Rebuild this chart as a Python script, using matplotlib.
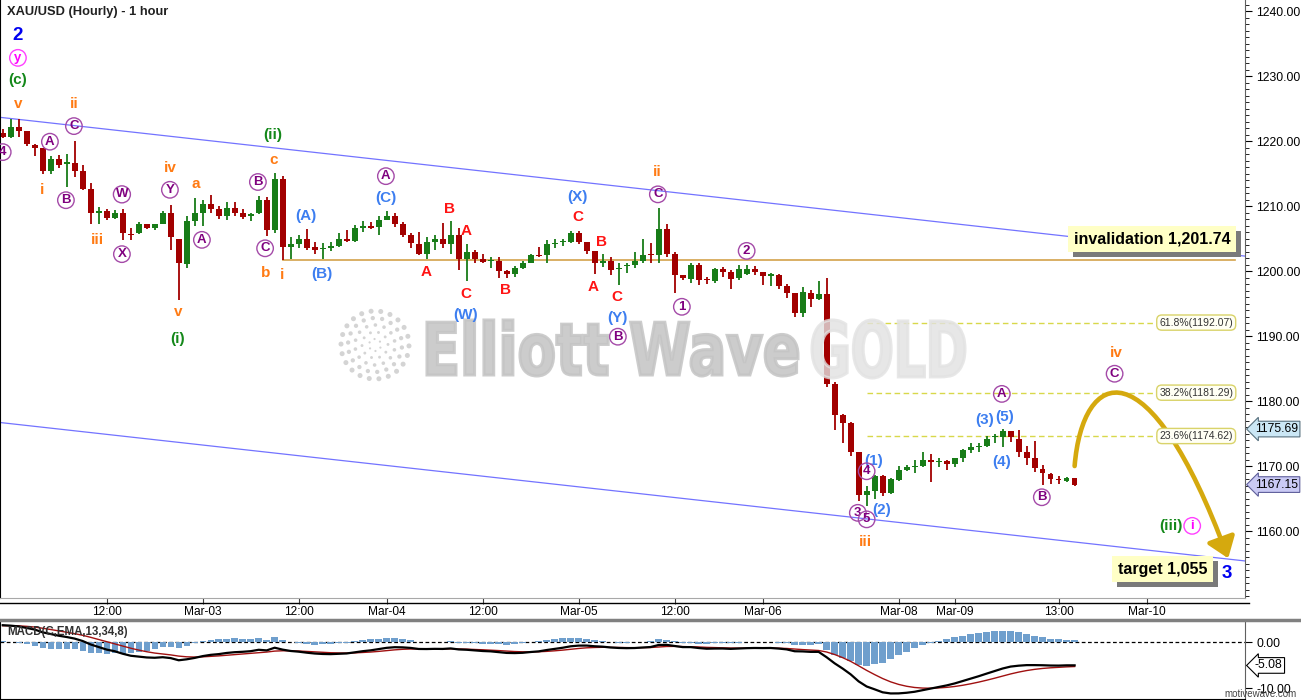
import numpy as np
import matplotlib
matplotlib.use('Agg')
import matplotlib.pyplot as plt
from matplotlib.path import Path
from matplotlib.patches import FancyArrowPatch, PathPatch, Circle, Rectangle
from matplotlib.textpath import TextPath
from matplotlib.font_manager import FontProperties
from matplotlib.transforms import Affine2D, IdentityTransform, blended_transform_factory
from matplotlib.lines import Line2D
from matplotlib.ticker import MultipleLocator, FixedLocator, FormatStrFormatter

plt.rcParams['font.family'] = ['Liberation Sans', 'DejaVu Sans']

# hourly XAU/USD candles, bar 0 = first bar on the left
opens = [1221.3, 1220.7, 1222.2, 1221.5, 1219.4, 1218.9, 1215.4, 1217.2, 1216.5, 1216.7,
         1215.4, 1212.6, 1208.9, 1209.2, 1208.1, 1209.0, 1205.7, 1205.9, 1207.2, 1206.6,
         1207.3, 1208.9, 1205.0, 1201.1, 1207.7, 1209.0, 1210.3, 1209.5, 1208.5, 1209.7,
         1208.9, 1208.4, 1208.9, 1210.9, 1206.3, 1214.2, 1203.7, 1204.15, 1204.9, 1203.7,
         1203.4, 1203.6, 1203.9, 1204.9, 1204.7, 1206.7, 1207.0, 1206.8, 1207.9, 1208.5,
         1207.2, 1205.5, 1204.2, 1202.7, 1204.5, 1205.0, 1204.2, 1205.6, 1201.8, 1202.9,
         1201.8, 1201.5, 1201.5, 1200.0, 1199.6, 1200.5, 1201.3, 1202.5, 1202.5, 1204.2,
         1204.4, 1204.5, 1205.8, 1204.4, 1203.1, 1201.2, 1201.5, 1200.3, 1200.8, 1200.9,
         1201.5, 1202.5, 1202.4, 1206.5, 1202.6, 1199.4, 1198.8, 1201.0, 1198.7, 1198.5,
         1200.3, 1199.8, 1198.9, 1199.5, 1200.3, 1199.8, 1199.3, 1199.4, 1197.7, 1196.6,
         1193.5, 1196.7, 1195.7, 1196.5, 1182.6, 1177.8, 1176.7, 1172.2, 1165.5, 1166.2,
         1168.5, 1165.8, 1167.8, 1169.4, 1169.8, 1170.0, 1171.0, 1170.6, 1170.7, 1170.25,
         1171.3, 1172.4, 1172.9, 1173.1, 1174.4, 1174.5, 1175.4, 1174.2, 1172.2, 1171.2,
         1169.6, 1168.8, 1167.95, 1167.75, 1168.1]
highs = [1221.8, 1223.4, 1223.4, 1221.6, 1219.5, 1219.0, 1217.7, 1217.8, 1218.0, 1220.0,
         1216.3, 1213.5, 1209.8, 1209.6, 1209.4, 1209.5, 1206.6, 1207.6, 1207.3, 1207.3,
         1209.2, 1210.1, 1205.0, 1208.5, 1211.3, 1211.0, 1211.7, 1210.0, 1210.7, 1210.6,
         1209.6, 1209.0, 1211.5, 1211.4, 1215.1, 1214.7, 1205.3, 1205.6, 1206.5, 1204.5,
         1204.3, 1204.4, 1205.8, 1206.3, 1207.1, 1207.7, 1207.6, 1208.5, 1209.2, 1208.9,
         1207.6, 1205.8, 1206.0, 1205.3, 1205.5, 1207.4, 1207.7, 1206.6, 1204.2, 1203.3,
         1202.7, 1202.2, 1202.2, 1200.2, 1200.8, 1201.6, 1202.7, 1203.7, 1204.8, 1205.0,
         1204.9, 1206.2, 1206.2, 1204.5, 1203.1, 1202.6, 1202.1, 1201.2, 1201.3, 1202.9,
         1205.0, 1204.3, 1209.7, 1207.2, 1202.9, 1199.4, 1201.2, 1201.2, 1199.1, 1200.5,
         1200.7, 1200.1, 1200.9, 1201.0, 1200.8, 1199.9, 1199.7, 1199.5, 1198.0, 1196.7,
         1197.6, 1197.1, 1198.5, 1199.0, 1183.0, 1178.0, 1176.8, 1172.2, 1167.0, 1168.6,
         1168.6, 1168.1, 1170.0, 1170.1, 1170.9, 1172.2, 1171.8, 1171.2, 1171.0, 1171.3,
         1172.7, 1173.6, 1173.6, 1174.6, 1175.0, 1175.69, 1175.4, 1175.5, 1173.1, 1173.8,
         1170.2, 1169.0, 1168.4, 1168.3, 1168.1]
lows = [1220.4, 1220.4, 1220.6, 1219.2, 1217.7, 1215.0, 1215.0, 1215.9, 1213.0, 1214.5,
        1212.5, 1207.3, 1207.2, 1207.9, 1208.0, 1204.8, 1204.8, 1205.7, 1206.5, 1206.3,
        1207.2, 1203.2, 1195.5, 1200.4, 1206.9, 1206.9, 1208.9, 1208.0, 1207.9, 1208.4,
        1208.0, 1207.7, 1208.8, 1205.4, 1205.9, 1201.74, 1201.9, 1203.6, 1203.2, 1202.6,
        1201.8, 1203.1, 1203.7, 1204.5, 1204.5, 1206.0, 1206.4, 1205.5, 1207.8, 1206.8,
        1205.3, 1203.6, 1202.5, 1201.8, 1203.2, 1203.5, 1202.7, 1200.2, 1198.4, 1201.3,
        1201.3, 1200.4, 1198.9, 1199.0, 1199.1, 1200.3, 1201.2, 1202.1, 1201.3, 1203.5,
        1203.8, 1204.3, 1204.2, 1202.6, 1199.6, 1200.7, 1199.4, 1197.9, 1199.7, 1200.4,
        1201.3, 1201.3, 1201.3, 1202.2, 1196.7, 1198.6, 1198.2, 1197.9, 1198.0, 1198.1,
        1199.1, 1197.2, 1198.6, 1199.4, 1199.4, 1197.8, 1197.7, 1197.3, 1195.8, 1193.0,
        1193.0, 1194.5, 1195.5, 1182.1, 1175.5, 1173.5, 1171.5, 1164.7, 1163.8, 1164.9,
        1165.4, 1165.7, 1167.7, 1169.3, 1168.9, 1169.9, 1167.6, 1169.9, 1169.4, 1169.9,
        1170.7, 1172.0, 1172.2, 1173.0, 1173.5, 1173.0, 1173.7, 1171.4, 1170.2, 1169.1,
        1167.1, 1167.3, 1167.2, 1167.6, 1166.9]
closes = [1220.7, 1222.2, 1221.6, 1219.5, 1219.0, 1215.4, 1217.2, 1216.3, 1216.7, 1215.4,
          1212.6, 1208.9, 1209.3, 1208.1, 1209.0, 1205.8, 1205.6, 1207.2, 1206.6, 1207.2,
          1208.9, 1205.2, 1201.2, 1207.7, 1208.9, 1210.3, 1209.5, 1208.5, 1209.7, 1209.0,
          1208.3, 1208.8, 1210.9, 1206.3, 1214.2, 1203.7, 1204.1, 1204.9, 1203.6, 1203.3,
          1203.6, 1203.9, 1204.9, 1204.7, 1206.7, 1207.0, 1206.7, 1207.8, 1208.5, 1207.3,
          1205.5, 1204.3, 1202.7, 1204.5, 1205.0, 1204.2, 1205.6, 1201.8, 1202.9, 1201.8,
          1201.4, 1201.6, 1200.0, 1199.6, 1200.5, 1201.3, 1202.5, 1202.3, 1204.2, 1204.3,
          1204.5, 1205.8, 1204.5, 1203.1, 1201.2, 1201.5, 1200.2, 1200.5, 1200.9, 1201.5,
          1202.5, 1202.4, 1206.5, 1202.6, 1199.4, 1198.9, 1201.0, 1198.6, 1198.6, 1200.3,
          1199.9, 1198.8, 1200.3, 1200.3, 1199.9, 1199.2, 1199.5, 1197.7, 1196.7, 1193.5,
          1196.7, 1195.7, 1196.4, 1182.6, 1177.9, 1176.7, 1172.2, 1165.5, 1166.2, 1168.5,
          1165.8, 1168.0, 1169.4, 1169.8, 1170.0, 1171.0, 1170.6, 1170.7, 1170.3, 1171.2,
          1172.4, 1172.9, 1173.1, 1174.2, 1174.5, 1175.4, 1174.4, 1172.2, 1171.3, 1169.7,
          1168.9, 1167.95, 1167.85, 1168.2, 1167.15]

tick_pos = [13, 25, 37, 48, 60, 72, 84, 95, 112, 119, 132, 143]
tick_lab = ['12:00', 'Mar-03', '12:00', 'Mar-04', '12:00', 'Mar-05', '12:00', 'Mar-06',
            'Mar-08', 'Mar-09', '13:00', 'Mar-10']

# trend channel (bar, price)
channel_x = [-0.34, 155.3]
channel_upper = [1223.65, 1202.3]
channel_lower = [1176.7, 1155.4]
invalidation = 1201.74
invalidation_from = 35
target = 1055
fib_levels = [1192.07, 1181.29, 1174.62]
fib_names = ['61.8%', '38.2%', '23.6%']
tag_prices = [1175.69, 1167.15]
macd_tag = -5.08
# projected path for wave iv then down (bezier anchors)
proj_x = [134.0, 135.0, 143.2, 153.2]
proj_y = [1170.0, 1185.1, 1189.1, 1155.8]

# MACD(13,34,8) seed values at the left edge
fast_start, slow_start, signal_start = 1221.0, 1217.1, 3.5

# wave labels (text, bar, price)
orange_lab = [('v', 1.9, 1225.7), ('ii', 8.9, 1225.7), ('i', 4.9, 1212.5), ('iii', 11.9, 1204.8),
              ('iv', 20.9, 1215.9), ('a', 24.1, 1213.4), ('v', 21.9, 1193.7), ('c', 33.9, 1217.1),
              ('b', 32.9, 1199.7), ('i', 34.9, 1199.4), ('ii', 81.8, 1215.2), ('iv', 139.2, 1187.4),
              ('iii', 107.9, 1158.3)]
green_lab = [('(c)', 1.9, 1229.4), ('(i)', 21.9, 1189.5), ('(ii)', 33.8, 1220.9), ('(iii)', 146.0, 1160.8)]
blue_lab = [('(A)', 37.9, 1208.5), ('(B)', 39.9, 1199.5), ('(C)', 47.9, 1211.2), ('(W)', 57.9, 1193.2),
            ('(X)', 71.9, 1211.4), ('(Y)', 76.9, 1192.8), ('(1)', 108.9, 1170.8), ('(2)', 109.9, 1163.2),
            ('(3)', 122.8, 1177.1), ('(5)', 125.2, 1177.5), ('(4)', 124.9, 1170.6)]
red_lab = [('B', 55.8, 1209.5), ('A', 57.9, 1206.2), ('A', 52.9, 1199.9), ('C', 57.9, 1196.5),
           ('B', 62.8, 1197.1), ('C', 71.9, 1208.3), ('B', 74.9, 1204.5), ('A', 73.8, 1197.5),
           ('C', 76.8, 1196.0)]
purple_lab = [('4', 0.0, 1218.3), ('A', 5.9, 1219.9), ('C', 8.9, 1222.3), ('B', 7.9, 1210.9),
              ('W', 14.9, 1211.8), ('X', 14.9, 1202.6), ('Y', 20.9, 1212.5), ('A', 24.9, 1204.8),
              ('B', 31.9, 1213.7), ('C', 32.8, 1203.5), ('A', 47.9, 1214.6), ('C', 81.9, 1211.8),
              ('B', 76.9, 1189.9), ('1', 84.9, 1194.5), ('2', 93.0, 1203.1), ('3', 106.9, 1162.8),
              ('5', 108.0, 1161.8), ('4', 108.0, 1169.2), ('A', 124.9, 1181.1), ('B', 129.9, 1165.2),
              ('C', 139.0, 1184.2)]
magenta_lab = [('y', 1.9, 1232.8), ('i', 148.7, 1160.8)]
navy_lab = [('2', 1.9, 1236.3), ('3', 153.0, 1153.4)]

W, H = 1301, 700
fig = plt.figure(figsize=(W / 100, H / 100), dpi=100)
ax = fig.add_axes([0, 102 / H, 1245 / W, 598 / H])
mx = fig.add_axes([0, 1 / H, 1245 / W, 78 / H])

o = np.array(opens); h = np.array(highs); l = np.array(lows); c = np.array(closes)
idx = np.arange(len(c))
up = c >= o
col = np.where(up, '#187c18', '#a20000')

ax.vlines(idx, l, h, colors=col, lw=1.3, zorder=2)
body = np.maximum(np.abs(c - o), 0.16)
ax.bar(idx, body, bottom=np.minimum(o, c), width=0.72, color=col, zorder=2.1)

ax.plot(channel_x, channel_upper, color='#7373ff', lw=0.9, zorder=1.5)
ax.plot(channel_x, channel_lower, color='#7373ff', lw=0.9, zorder=1.5)
ax.plot([invalidation_from, 154], [invalidation, invalidation], color='#d3a24a', lw=1.2, zorder=1.6)

for lev, name in zip(fib_levels, fib_names):
    ax.plot([108, 144.3], [lev, lev], color='#d8d84a', lw=1, ls=(0, (4, 2.5)), zorder=1.6)
    ax.text(149.2, lev, '%s(%.2f)' % (name, lev), ha='center', va='center', fontsize=7.5,
            color='#333333', zorder=6,
            bbox=dict(boxstyle='round,pad=0.25,rounding_size=0.5', fc='#fffff4', ec='#d9d36a', lw=1))

# watermark
def stamp(s, x0, x1, ytop, ybot, color, alpha, stroke):
    tp = TextPath((0, 0), s, size=100, prop=FontProperties(family='DejaVu Sans', weight='bold'))
    ext = tp.get_extents()
    tr = Affine2D().translate(-ext.x0, -ext.y0).scale((x1 - x0) / ext.width, (ybot - ytop) / ext.height)
    tr = tr.translate(x0, H - ybot)
    ax.add_patch(PathPatch(tr.transform_path(tp), transform=IdentityTransform(), fc=color,
                           ec=color, lw=stroke, alpha=alpha, zorder=3))

stamp('Elliott Wave', 427, 798, 320, 376, '#c4c4c4', 0.85, 2.2)
stamp('GOLD', 812, 965, 320, 378, '#e2e2e2', 0.8, 2.2)
for r, n in [(6, 6), (13, 10), (20, 14), (27, 18), (34, 22)]:
    for a in np.linspace(0, 2 * np.pi, n, endpoint=False) + r * 0.1:
        ax.add_patch(Circle((375 + r * np.cos(a), H - 345 + r * np.sin(a)), 0.8 + r * 0.05,
                            transform=IdentityTransform(), fc='#d4d4d4', ec='none', zorder=3))

# projection
verts = list(zip(proj_x, proj_y))
path = Path(verts, [Path.MOVETO, Path.CURVE4, Path.CURVE4, Path.CURVE4])
ax.add_patch(FancyArrowPatch(path=path, arrowstyle='-|>,head_length=0.55,head_width=0.4',
                             mutation_scale=22, color='#d5a90e', lw=3.3, shrinkA=0, shrinkB=0,
                             zorder=4))

# labels
def plain(lst, color, size=11):
    for s, x, y in lst:
        ax.text(x, y, s, color=color, fontsize=size, fontweight='bold', ha='center', va='center', zorder=7)

def ringed(lst, color, edge):
    for s, x, y in lst:
        ax.text(x, y, s, color=color, fontsize=9.5, fontweight='bold', ha='center', va='center', zorder=7,
                bbox=dict(boxstyle='circle,pad=0.17', fc='none', ec=edge, lw=1))

plain(orange_lab, '#ff7b14')
plain(green_lab, '#14881a')
plain(blue_lab, '#3d7ef0')
plain(red_lab, '#ff1414')
plain(navy_lab, '#0000f0', 13.5)
ringed(purple_lab, '#7f007f', '#a44aa8')
ringed(magenta_lab, '#ff00ff', '#ff40ff')

boxes = []
for x, y, s in [(143.7, 1204.9, 'invalidation {:,.2f}'.format(invalidation)),
                (145.0, 1154.1, 'target {:,}'.format(target))]:
    boxes.append(ax.text(x, y, s, ha='center', va='center', fontsize=11.5, fontweight='bold',
                         color='black', zorder=8,
                         bbox=dict(boxstyle='square,pad=0.35', fc='#ffffc6', ec='none')))

ax.set_xlim(-0.34, 155.3)
ax.set_ylim(1149.7, 1241.7)
ax.yaxis.tick_right()
ax.yaxis.set_major_locator(FixedLocator(np.arange(1160, 1241, 10)))
ax.yaxis.set_minor_locator(MultipleLocator(1))
ax.yaxis.set_major_formatter(FormatStrFormatter('%.2f'))
ax.tick_params(axis='y', which='major', length=5, labelsize=8.8, pad=3, colors='black')
ax.tick_params(axis='y', which='minor', length=3)
ax.set_xticks(tick_pos)
ax.set_xticklabels(tick_lab)
ax.tick_params(axis='x', length=4.6, color='#404040', labelsize=8.6, pad=1.5)
ax.spines['top'].set_visible(False)
ax.spines['bottom'].set_color('#a8a8a8')
ax.spines['left'].set_color('black')
ax.spines['right'].set_color('#606060')

tr = blended_transform_factory(ax.transAxes, ax.transData)
ax.text(1.008, tag_prices[0], '%.2f' % tag_prices[0], transform=tr, ha='left', va='center', fontsize=8.8,
        bbox=dict(boxstyle='larrow,pad=0.15', fc='#cbe7f5', ec='#58707e', lw=0.8), zorder=9)
ax.text(1.008, tag_prices[1], '%.2f' % tag_prices[1], transform=tr, ha='left', va='center', fontsize=8.8,
        bbox=dict(boxstyle='larrow,pad=0.15', fc='#cacaf4', ec='#5e5e9a', lw=0.8), zorder=9)

fig.text(7 / W, 1 - 12.5 / H, 'XAU/USD (Hourly) - 1 hour', fontsize=9.3, fontweight='bold',
         color='#202020', ha='left', va='center')

fig.add_artist(Line2D([0, 1249 / W], [1 - 602.5 / H] * 2, color='black', lw=1))
fig.add_artist(Line2D([0, 1], [1 - 619.5 / H] * 2, color='#808080', lw=2.5))

# MACD
ef, es, sg = fast_start, slow_start, signal_start
macd, signal = [], []
for v in closes:
    ef += (v - ef) * 2 / 14
    es += (v - es) * 2 / 35
    m = ef - es
    sg += (m - sg) * 2 / 9
    macd.append(m)
    signal.append(sg)
macd = np.array(macd); signal = np.array(signal)
hist = macd - signal

mx.bar(idx, hist * 1.5, width=0.8, color='#6f9fcd', zorder=2)
mx.axhline(0, color='black', lw=0.9, ls=(0, (3, 2)), zorder=1)
mx.plot(idx, signal, color='#a01010', lw=1.0, zorder=3)
mx.plot(idx, macd, color='black', lw=1.6, zorder=4)
mx.set_xlim(-0.34, 155.3)
mx.set_ylim(-12.36, 4.56)
mx.set_xticks([])
mx.yaxis.tick_right()
mx.set_yticks([0, -10])
mx.set_yticklabels(['0.00', '-10.00'])
mx.yaxis.set_minor_locator(MultipleLocator(5))
mx.tick_params(axis='y', length=5, labelsize=8.8, pad=3)
mx.tick_params(axis='y', which='minor', length=3)
mx.spines['top'].set_visible(False)
mx.spines['right'].set_color('#606060')
trm = blended_transform_factory(mx.transAxes, mx.transData)
mx.text(1.008, macd_tag, '%.2f' % macd_tag, transform=trm, ha='left', va='center', fontsize=8.8,
        bbox=dict(boxstyle='larrow,pad=0.15', fc='white', ec='black', lw=0.8), zorder=9)
mx.text(0.0055, 0.86, 'MACD(C,EMA,13,34,8)', transform=mx.transAxes, fontsize=8.3, fontweight='bold',
        color='#303030', ha='left', va='center', zorder=9)
fig.text(1297 / W, 1 - 694 / H, 'motivewave.com', ha='right', va='center', fontsize=7, color='#444444')

# drop shadows behind the two yellow boxes
fig.canvas.draw()
for t in boxes:
    bb = t.get_bbox_patch().get_window_extent()
    ax.add_patch(Rectangle((bb.x0 + 5, bb.y0 - 5), bb.width, bb.height, transform=IdentityTransform(),
                           fc='#7a7a7a', ec='none', zorder=7.5, clip_on=False))

fig.savefig('out.png', dpi=100, facecolor='white')
